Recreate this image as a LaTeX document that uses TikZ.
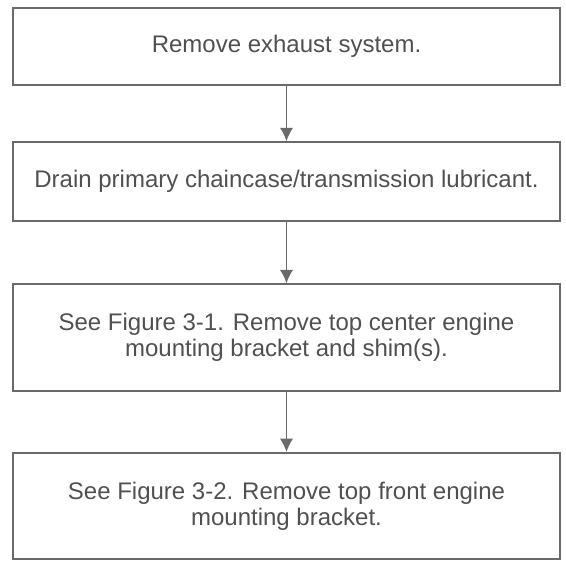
\documentclass[tikz,border=0pt]{standalone}
\usepackage{fontspec}
\setmainfont{Liberation Sans}
\usepackage{tikz}
\usetikzlibrary{arrows.meta,positioning}
\definecolor{boxGray}{HTML}{6A6A6A}
\definecolor{textGray}{HTML}{505050}

\begin{document}
\begin{tikzpicture}[x=0.75pt,y=0.75pt,>={Latex[length=10pt,width=10pt]},
    stepbox/.style={draw=boxGray,line width=1.3pt,text=textGray,
      minimum width=410pt,align=center,inner sep=0pt,
      font=\fontsize{18}{19.5}\selectfont},
    flow/.style={->,draw=boxGray,line width=1.3pt}]
    \useasboundingbox (0,0) rectangle (566,-562);
    \node[stepbox,minimum height=57.75pt] (exhaust) at (286.5,-46.5)
      {Remove exhaust system.};
    \node[stepbox,minimum height=59.25pt,below=41.5pt of exhaust] (drain)
      {Drain primary chaincase/transmission lubricant.};
    \node[stepbox,minimum height=80pt,below=46pt of drain] (center)
      {See Figure 3-1. Remove top center engine\\mounting bracket and shim(s).};
    \node[stepbox,minimum height=79.5pt,below=45.2pt of center] (front)
      {See Figure 3-2. Remove top front engine\\mounting bracket.};
    \draw[flow] (exhaust) -- (drain);
    \draw[flow] (drain) -- (center);
    \draw[flow] (center) -- (front);
  \end{tikzpicture}
\end{document}
